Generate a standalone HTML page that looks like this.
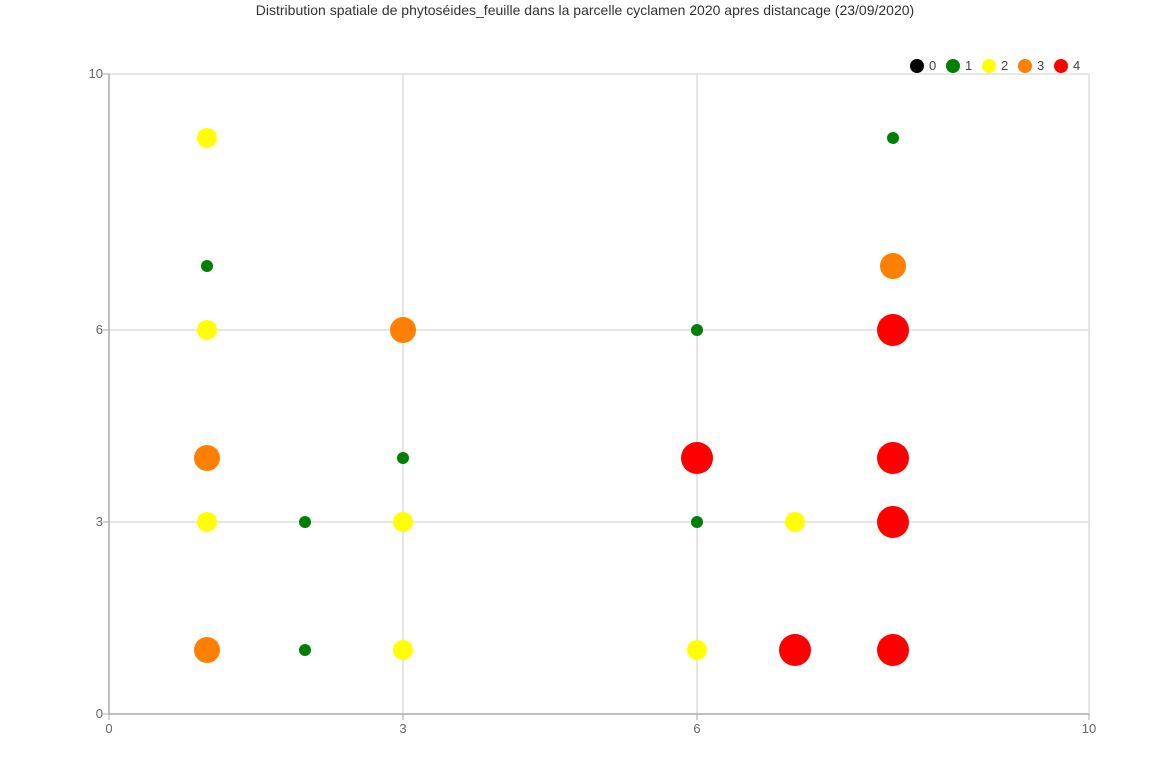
<!DOCTYPE html>
<html><head><meta charset="utf-8">
<style>
body{margin:0;background:#fff;font-family:"Liberation Sans",Arial,sans-serif;}
svg text{font-family:"Liberation Sans",Arial,sans-serif;}
</style></head>
<body>
<svg id="chart" width="1170" height="770">
<text x="585" y="15" text-anchor="middle" font-size="14" fill="#333">Distribution spatiale de phytoséides_feuille dans la parcelle cyclamen 2020 apres distancage (23/09/2020)</text>
<g id="grid"></g><g id="axes"></g><g id="marks"></g><g id="legend"></g>
</svg>
<script>
const xTicks=[0,3,6,10];
const yTicks=[0,3,6,10];
const xs=[1,1,1,1,1,1,2,2,3,3,3,3,6,6,6,6,7,7,8,8,8,8,8,8];
const ys=[9,7,6,4,3,1,3,1,6,4,3,1,6,4,3,1,3,1,9,7,6,4,3,1];
const cats=[2,1,2,3,2,3,1,1,3,1,2,2,1,4,1,2,2,4,1,3,4,4,4,4];
const legendLabels=['0','1','2','3','4'];
const colors=['#000000','#008000','#ffff00','#ff7f00','#ff0000'];
const radii=[4,6,10,13,16];
const NS='http://www.w3.org/2000/svg';
const X=v=>109+v*98, Y=v=>714-v*64;
function mk(t,a,p){const e=document.createElementNS(NS,t);for(const k in a)e.setAttribute(k,a[k]);p.appendChild(e);return e;}
const grid=document.getElementById('grid'),axes=document.getElementById('axes'),marks=document.getElementById('marks'),leg=document.getElementById('legend');
xTicks.forEach(t=>{if(t>0){const l=mk('line',{x1:X(t),x2:X(t),y1:Y(0),y2:Y(10),stroke:'#ddd','stroke-width':1.5},grid);

}
const tk=mk('text',{x:X(t),y:733,'text-anchor':'middle','font-size':13,fill:'#666'},axes);tk.textContent=t;


mk('line',{x1:X(t),x2:X(t),y1:714,y2:720,stroke:'#aaa'},axes);});
yTicks.forEach(t=>{if(t>0){const l=mk('line',{x1:X(0),x2:X(10),y1:Y(t),y2:Y(t),stroke:'#ddd','stroke-width':1.5},grid);

}
const tk=mk('text',{x:103,y:Y(t)+4,'text-anchor':'end','font-size':13,fill:'#666'},axes);tk.textContent=t;


mk('line',{x1:103,x2:109,y1:Y(t),y2:Y(t),stroke:'#aaa'},axes);});
const xa=mk('line',{x1:X(0),x2:X(10),y1:714,y2:714,stroke:'#aaa','stroke-width':1.5},axes);


const ya=mk('line',{x1:109,x2:109,y1:Y(0),y2:Y(10),stroke:'#aaa','stroke-width':1.5},axes);


xs.forEach((x,i)=>{const c=mk('circle',{cx:X(x),cy:Y(ys[i]),r:radii[cats[i]],fill:colors[cats[i]]},marks);

});
legendLabels.forEach((lab,i)=>{const g=mk('g',{},leg);


const lx=917+i*36;mk('circle',{cx:lx,cy:66,r:7,fill:colors[i]},g);
const t=mk('text',{x:lx+12,y:70,'font-size':13,fill:'#444'},g);t.textContent=lab;});
</script>
</body></html>
